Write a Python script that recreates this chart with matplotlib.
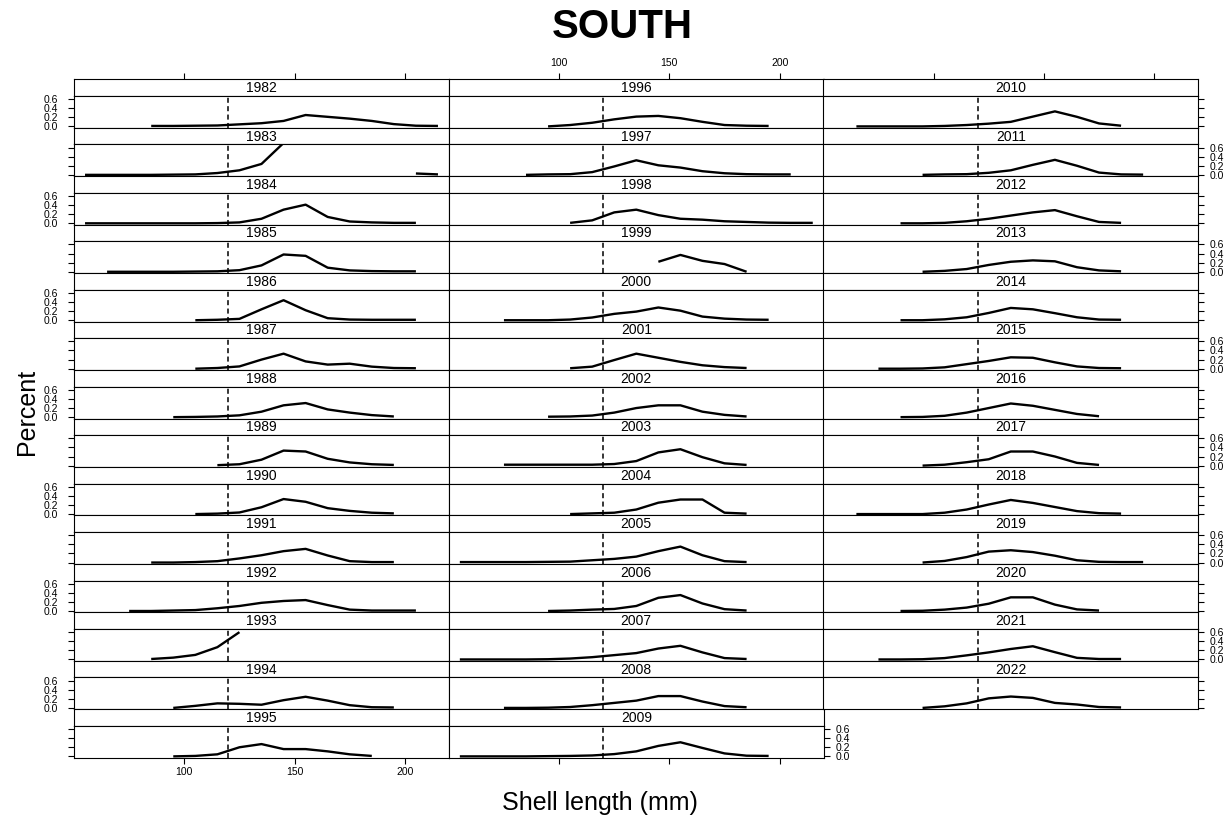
import numpy as np
import matplotlib.pyplot as plt

plt.rcParams['font.family'] = ['Liberation Sans', 'DejaVu Sans']

n = np.nan
lengths = [55, 65, 75, 85, 95, 105, 115, 125, 135, 145, 155, 165, 175, 185, 195, 205, 215]

# percent by length class, one list per year
p1982 = [n, n, n, .01, .01, .015, .02, .045, .07, .12, .25, .21, .17, .12, .05, .015, .01]
p1983 = [0, 0, 0, 0, .005, .01, .04, .1, .24, .7, n, n, n, n, n, .03, .01]
p1984 = [0, 0, 0, 0, 0, 0, .005, .02, .1, .3, .41, .14, .04, .02, .01, .01, n]
p1985 = [n, 0, 0, 0, 0, .005, .01, .035, .14, .38, .35, .09, .03, .015, .01, .01, n]
p1986 = [n, n, n, n, n, 0, .01, .03, .24, .44, .22, .045, .015, .01, .01, .01, n]
p1987 = [n, n, n, n, n, 0, .015, .05, .2, .33, .16, .09, .11, .045, .015, .01, n]
p1988 = [n, n, n, n, 0, .005, .015, .04, .12, .26, .31, .17, .1, .045, .015, n, n]
p1989 = [n, n, n, n, n, n, .01, .03, .13, .33, .31, .15, .07, .03, .015, n, n]
p1990 = [n, n, n, n, n, 0, .01, .035, .15, .33, .27, .13, .07, .03, .015, n, n]
p1991 = [n, n, n, 0, 0, .01, .03, .09, .16, .25, .3, .155, .03, .01, .01, n, n]
p1992 = [n, n, 0, 0, .01, .02, .06, .11, .18, .22, .24, .13, .03, .01, .01, .01, n]
p1993 = [n, n, n, .01, .04, .1, .27, .6, n, n, n, n, n, n, n, n, n]
p1994 = [n, n, n, n, 0, .045, .1, .09, .07, .17, .245, .16, .06, .015, .01, n, n]
p1995 = [n, n, n, n, 0, .01, .045, .2, .27, .16, .16, .11, .045, .01, n, n, n]
p1996 = [n, n, n, n, 0, .03, .08, .155, .215, .23, .18, .1, .03, .015, .01, n, n]
p1997 = [n, n, n, 0, .01, .015, .06, .185, .32, .21, .16, .08, .035, .015, .01, .01, n]
p1998 = [n, n, n, n, n, .01, .065, .24, .3, .18, .1, .08, .045, .03, .015, .01, .01]
p1999 = [n, n, n, n, n, n, n, n, n, .22, .37, .24, .17, 0, n, n, n]
p2000 = [n, n, 0, 0, 0, .015, .06, .14, .19, .28, .21, .08, .035, .015, .01, n, n]
p2001 = [n, n, n, n, n, .01, .045, .19, .33, .24, .15, .075, .035, .015, n, n, n]
p2002 = [n, n, n, n, .01, .015, .035, .1, .2, .26, .26, .12, .05, .015, n, n, n]
p2003 = [n, n, .02, .02, .02, .02, .02, .035, .1, .29, .36, .185, .05, .015, n, n, n]
p2004 = [n, n, n, n, n, 0, .015, .03, .1, .25, .32, .32, .03, .01, n, n, n]
p2005 = [.01, .01, .01, .01, .015, .02, .05, .08, .13, .25, .35, .16, .03, .01, n, n, n]
p2006 = [n, n, n, n, 0, .01, .03, .045, .11, .29, .35, .165, .04, .01, n, n, n]
p2007 = [0, 0, 0, 0, .005, .02, .05, .095, .14, .24, .3, .155, .03, .01, n, n, n]
p2008 = [n, n, 0, 0, .005, .02, .06, .11, .16, .26, .26, .14, .04, .015, n, n, n]
p2009 = [0, 0, 0, 0, .005, .01, .02, .05, .11, .23, .31, .185, .065, .015, .01, n, n]
p2010 = [n, 0, 0, 0, 0, .01, .03, .06, .1, .215, .33, .21, .065, .015, n, n, n]
p2011 = [n, n, n, n, 0, .01, .015, .045, .1, .22, .33, .2, .05, .01, .005, n, n]
p2012 = [n, n, n, 0, 0, .01, .045, .1, .17, .24, .29, .155, .03, .01, n, n, n]
p2013 = [n, n, n, n, 0, .02, .06, .15, .22, .25, .23, .1, .03, .01, n, n, n]
p2014 = [n, n, n, 0, 0, .02, .065, .16, .27, .24, .155, .065, .015, .01, n, n, n]
p2015 = [n, n, 0, 0, .005, .03, .1, .17, .25, .24, .14, .05, .015, .01, n, n, n]
p2016 = [n, n, n, 0, .005, .03, .1, .2, .3, .25, .16, .07, .02, n, n, n, n]
p2017 = [n, n, n, n, 0, .02, .075, .14, .31, .31, .2, .06, .015, n, n, n, n]
p2018 = [n, 0, 0, 0, 0, .03, .1, .21, .31, .245, .155, .065, .02, .01, n, n, n]
p2019 = [n, n, n, n, 0, .035, .12, .24, .27, .23, .15, .05, .015, .01, .01, n, n]
p2020 = [n, n, n, 0, .005, .03, .075, .16, .3, .3, .14, .035, .01, n, n, n, n]
p2021 = [n, n, 0, 0, .005, .03, .09, .155, .23, .29, .16, .035, .01, .01, n, n, n]
p2022 = [n, n, n, n, 0, .035, .1, .21, .25, .22, .11, .075, .02, .01, n, n, n]

years = list(range(1982, 2023))
pct = [p1982, p1983, p1984, p1985, p1986, p1987, p1988, p1989, p1990, p1991,
       p1992, p1993, p1994, p1995, p1996, p1997, p1998, p1999, p2000, p2001,
       p2002, p2003, p2004, p2005, p2006, p2007, p2008, p2009, p2010, p2011,
       p2012, p2013, p2014, p2015, p2016, p2017, p2018, p2019, p2020, p2021,
       p2022]
cutoff = 120
xticks = [100, 150, 200]
yticks = [0.0, 0.2, 0.4, 0.6]
ylabels = ['0.0', '0.2', '0.4', '0.6']

W, H = 1232, 823
fig = plt.figure(figsize=(W / 100, H / 100), dpi=100)

col_left = [74, 448.8, 823.3]
col_w = 375
top0 = 79.3
pitch = 48.46
strip_h = 16.6
panel_h = pitch - strip_h
nrow = 14
tick_len = 4.3

for k, (yr, vals) in enumerate(zip(years, pct)):
    c, r = divmod(k, nrow)
    x0 = col_left[c]
    ys = top0 + r * pitch

    # strip
    sax = fig.add_axes([x0 / W, 1 - (ys + strip_h) / H, col_w / W, strip_h / H])
    sax.set_xlim(50, 220)
    sax.set_yticks([])
    sax.text(0.5, 0.47, str(yr), transform=sax.transAxes, ha='center', va='center',
             fontsize=10)
    if r == 0:
        sax.set_xticks(xticks)
        sax.tick_params(axis='x', top=True, bottom=False, labeltop=(c == 1),
                        labelbottom=False, direction='out', length=tick_len, width=0.8,
                        labelsize=7.5, pad=4)
    else:
        sax.set_xticks([])
    for s in sax.spines.values():
        s.set_linewidth(0.8)

    # panel
    ax = fig.add_axes([x0 / W, 1 - (ys + pitch) / H, col_w / W, panel_h / H])
    ax.plot(lengths, vals, color='black', lw=1.7, solid_capstyle='butt')
    ax.axvline(cutoff, color='black', lw=1.1, dashes=(3.3, 2.2))
    ax.set_xlim(50, 220)
    ax.set_ylim(-0.03, 0.67)
    for s in ax.spines.values():
        s.set_linewidth(0.8)

    last_in_col = (r == nrow - 1) or (k == len(years) - 1)
    if last_in_col and c < 2:
        ax.set_xticks(xticks)
        ax.tick_params(axis='x', bottom=True, labelbottom=(c == 0), direction='out',
                       length=tick_len, width=0.8, labelsize=7.5, pad=2.5)
    else:
        ax.set_xticks([])

    right_side = (c == 2) or (c == 1 and r == nrow - 1)
    if c == 0:
        ax.set_yticks(yticks)
        ax.set_yticklabels(ylabels)
        ax.tick_params(axis='y', left=True, right=False, labelleft=(r % 2 == 0),
                       direction='out', length=tick_len, width=0.8, labelsize=7.5, pad=7)
    elif right_side:
        ax.set_yticks(yticks)
        ax.set_yticklabels(ylabels)
        ax.tick_params(axis='y', left=False, right=True, labelleft=False,
                       labelright=(r % 2 == 1), direction='out', length=tick_len,
                       width=0.8, labelsize=7.5, pad=4)
    else:
        ax.set_yticks([])

fig.text(622 / W, 1 - 27 / H, 'SOUTH', ha='center', va='center', fontsize=29,
         fontweight='bold')
fig.text(600 / W, 1 - 803 / H, 'Shell length (mm)', ha='center', va='center', fontsize=18)
fig.text(27 / W, 1 - 412 / H, 'Percent', ha='center', va='center', fontsize=18,
         rotation=90)

fig.savefig('out.png', dpi=100)
